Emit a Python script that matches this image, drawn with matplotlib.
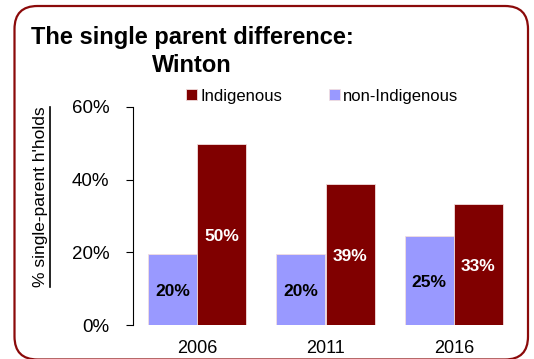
import matplotlib
matplotlib.use("Agg")
import matplotlib.pyplot as plt
from matplotlib.patches import FancyBboxPatch
from matplotlib.lines import Line2D
import numpy as np

plt.rcParams['font.family'] = ['Liberation Sans', 'DejaVu Sans']

years = ['2006', '2011', '2016']
indigenous = [49.9, 38.7, 33.3]
non_indigenous = [19.6, 19.6, 24.6]
yticks = [0, 20, 40, 60]

MAROON = '#800000'
LILAC = '#9999ff'

W, H = 534, 359
fig = plt.figure(figsize=(W / 100, H / 100), dpi=100)

# rounded frame around the whole chart (inches, so the corners stay circular)
frame = FancyBboxPatch((0.145, -0.005), 5.135, 3.535,
                       boxstyle="round,pad=0,rounding_size=0.23",
                       transform=fig.dpi_scale_trans, facecolor='none',
                       edgecolor='#8b0a0a', linewidth=1.6)
fig.patches.append(frame)

ax = fig.add_axes([133 / W, 1 - 325 / H, 385 / W, 218 / H])
x = np.arange(len(years))
bw = 0.382
b1 = ax.bar(x - bw / 2, non_indigenous, bw, color=LILAC, edgecolor='#f2dede',
            linewidth=0.6, label='non-Indigenous')
b2 = ax.bar(x + bw / 2, indigenous, bw, color=MAROON, edgecolor='#f2dede',
            linewidth=0.6, label='Indigenous')

for xi, v in zip(x - bw / 2, non_indigenous):
    ax.text(xi, v / 2 - 0.6, f"{v:.0f}%", ha='center', va='center',
            fontsize=12.5, fontweight='bold', color='black')
for xi, v in zip(x + bw / 2, indigenous):
    ax.text(xi, v / 2 - 0.6, f"{v:.0f}%", ha='center', va='center',
            fontsize=12.5, fontweight='bold', color='white')

ax.set_xlim(-0.5, 2.5)
ax.set_ylim(0, 60)
ax.set_yticks(yticks)
ax.set_yticklabels([f"{t}%" for t in yticks], fontsize=13.5)
ax.set_xticks(x)
ax.set_xticklabels(years, fontsize=13)
ax.tick_params(axis='y', length=5, width=0.8, pad=12, direction='out')
ax.tick_params(axis='x', length=0, pad=11)
for s in ['top', 'right', 'bottom']:
    ax.spines[s].set_visible(False)
ax.spines['left'].set_linewidth(0.8)

ax.legend(handles=[b2, b1], loc='center left', ncol=2, frameon=False,
          bbox_to_anchor=(186 / W, 1 - 96 / H), bbox_transform=fig.transFigure,
          fontsize=12, handlelength=0.65, handleheight=0.65,
          handletextpad=0.2, columnspacing=2.8, borderpad=0, borderaxespad=0)

fig.text(192 / W, 1 - 44 / H, "The single parent difference:", ha='center',
         va='baseline', fontsize=17, fontweight='bold')
fig.text(192 / W, 1 - 72 / H, "Winton", ha='center', va='baseline',
         fontsize=17, fontweight='bold')

ylab = fig.text(41 / W, 1 - 197 / H, "% single-parent h'holds", rotation=90,
                ha='center', va='center', fontsize=12.5)

# underline the rotated axis title
fig.canvas.draw()
bb = ylab.get_window_extent().transformed(fig.transFigure.inverted())
fig.add_artist(Line2D([bb.x1 + 1.5 / W, bb.x1 + 1.5 / W], [bb.y0, bb.y1],
                      transform=fig.transFigure, color='black', linewidth=1.2))

fig.savefig("out.png", dpi=100)
